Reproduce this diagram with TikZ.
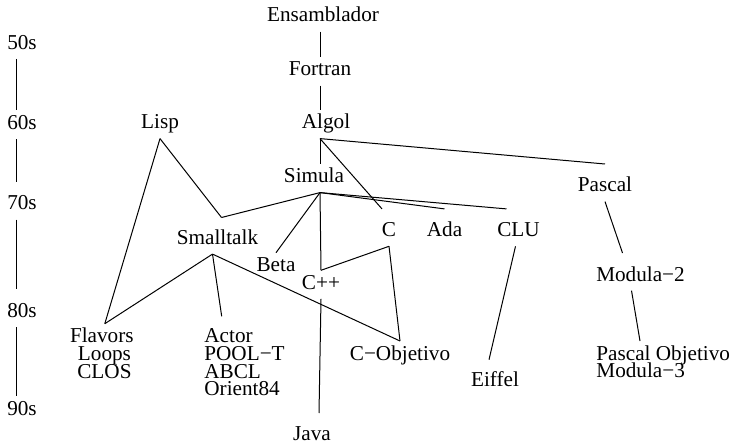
\documentclass[tikz,border=0pt]{standalone}
\usepackage{fontspec}
\setmainfont{Liberation Serif}
% stacked lines with a fixed, tight line pitch
\newcommand\rowstack[1]{\vtop{\baselineskip=8.85pt\lineskiplimit=-20pt #1}}
\begin{document}
\begin{tikzpicture}[x=0.5pt,y=-0.5pt,
  font=\fontsize{10.6}{8.85}\selectfont,
  lbl/.style={anchor=base,inner sep=0pt,text height=9.3pt,text depth=4.6pt},
  stack/.style={inner sep=0pt,text height=9.3pt},
  link/.style={line width=0.5pt}]
\useasboundingbox (0,0) rectangle (733,443);

% decade axis
\node[lbl] (d50) at (22,49.3)  {50s};
\node[lbl] (d60) at (22,129.5) {60s};
\node[lbl] (d70) at (22,210)   {70s};
\node[lbl] (d80) at (22,317.5) {80s};
\node[lbl] (d90) at (22,415)   {90s};
\draw[link] ([xshift=-3pt]d50.south) -- ([xshift=-3pt]d60.north);
\draw[link] ([xshift=-3pt]d60.south) -- ([xshift=-3pt,yshift=4.3pt]d70.north);
\draw[link] ([xshift=-3pt]d70.south) -- ([xshift=-3pt,yshift=5pt]d80.north);
\draw[link] ([xshift=-3pt]d80.south) -- ([xshift=-3pt]d90.north);

% languages
\node[lbl] (ens)    at (323,22)    {Ensamblador};
\node[lbl] (fortran) at (320,76)   {Fortran};
\node[lbl] (algol)  at (326,129)   {Algol};
\node[lbl] (lisp)   at (160,129)   {Lisp};
\node[lbl] (simula) at (314,183)   {Simula};
\node[lbl] (pascal) at (605,192)   {Pascal};
\node[lbl] (c)      at (389,236.7) {C};
\node[lbl] (ada)    at (444.5,236.7) {Ada};
\node[lbl] (clu)    at (518.5,236.7) {CLU};
\node[lbl] (small)  at (217.5,244.5) {Smalltalk};
\node[lbl] (beta)   at (276,271.7) {Beta};
\node[lbl] (modtwo) at (640.5,281) {Modula−2};
\node[lbl] (cpp)    at (321,289.3) {C++};
\node[lbl] (cobj)   at (400,360)   {C−Objetivo};
\node[lbl] (eiffel) at (495,386.7) {Eiffel};
\node[lbl] (java)   at (312,440)   {Java};
\node[stack,anchor=base] (flavors) at (101.8,342.7)
  {\rowstack{\hbox to 32pt{\hfil Flavors\hfil}\hbox to 32pt{\hfil\ Loops\hfil}\hbox to 32pt{\hfil\ CLOS\hfil}}};
\node[stack,anchor=base west] (actor) at (204,342.7)
  {\rowstack{\hbox{Actor}\hbox{POOL−T}\hbox{ABCL}\hbox{Orient84}}};
\node[stack,anchor=base west] (pobj) at (596,360)
  {\rowstack{\hbox{Pascal Objetivo}\hbox{Modula−3}}};

% lineage
\draw[link] ([xshift=-1.5pt]ens.south) -- (fortran.north);
\draw[link] (fortran.south) -- ([xshift=-3pt]algol.north);
\draw[link] ([xshift=-3pt]algol.south) -- ([xshift=3pt]simula.north);
\draw[link] ([xshift=-3pt]algol.south) -- ([yshift=4.5pt]pascal.north);
\draw[link] ([xshift=-3pt]algol.south) -- ([xshift=-3.5pt,yshift=4.4pt]c.north);
\draw[link] ([xshift=3pt]simula.south) -- ([yshift=4.4pt]ada.north);
\draw[link] ([xshift=3pt]simula.south) -- ([xshift=-6pt,yshift=4.4pt]clu.north);
\draw[link] ([xshift=3pt]simula.south) -- ([xshift=2pt,yshift=4pt]small.north);
\draw[link] (lisp.south) -- ([xshift=2pt,yshift=4pt]small.north);
\draw[link] ([xshift=3pt]simula.south) -- (beta.north);
\draw[link] ([xshift=3pt]simula.south) -- (cpp.north);
\draw[link] (c.south) -- (cpp.north);
\draw[link] (c.south) -- (cobj.north);
\draw[link] (cpp.south) -- ([xshift=3.5pt,yshift=4pt]java.north);
\draw[link] (lisp.south) -- ([xshift=1.5pt]flavors.north);
\draw[link] ([xshift=-2.5pt]small.south) -- ([xshift=1.5pt]flavors.north);
\draw[link] ([xshift=-2.5pt]small.south) -- ([xshift=8.85pt,yshift=3.7pt]actor.north west);
\draw[link] ([xshift=-2.5pt]small.south) -- (cobj.north);
\draw[link] (pascal.south) -- ([xshift=-9pt,yshift=4.5pt]modtwo.north);
\draw[link] ([xshift=-4.5pt]modtwo.south) -- ([xshift=22pt]pobj.north west);
\draw[link] ([xshift=-1.5pt]clu.south) -- ([xshift=-3pt,yshift=4pt]eiffel.north);
\end{tikzpicture}
\end{document}
